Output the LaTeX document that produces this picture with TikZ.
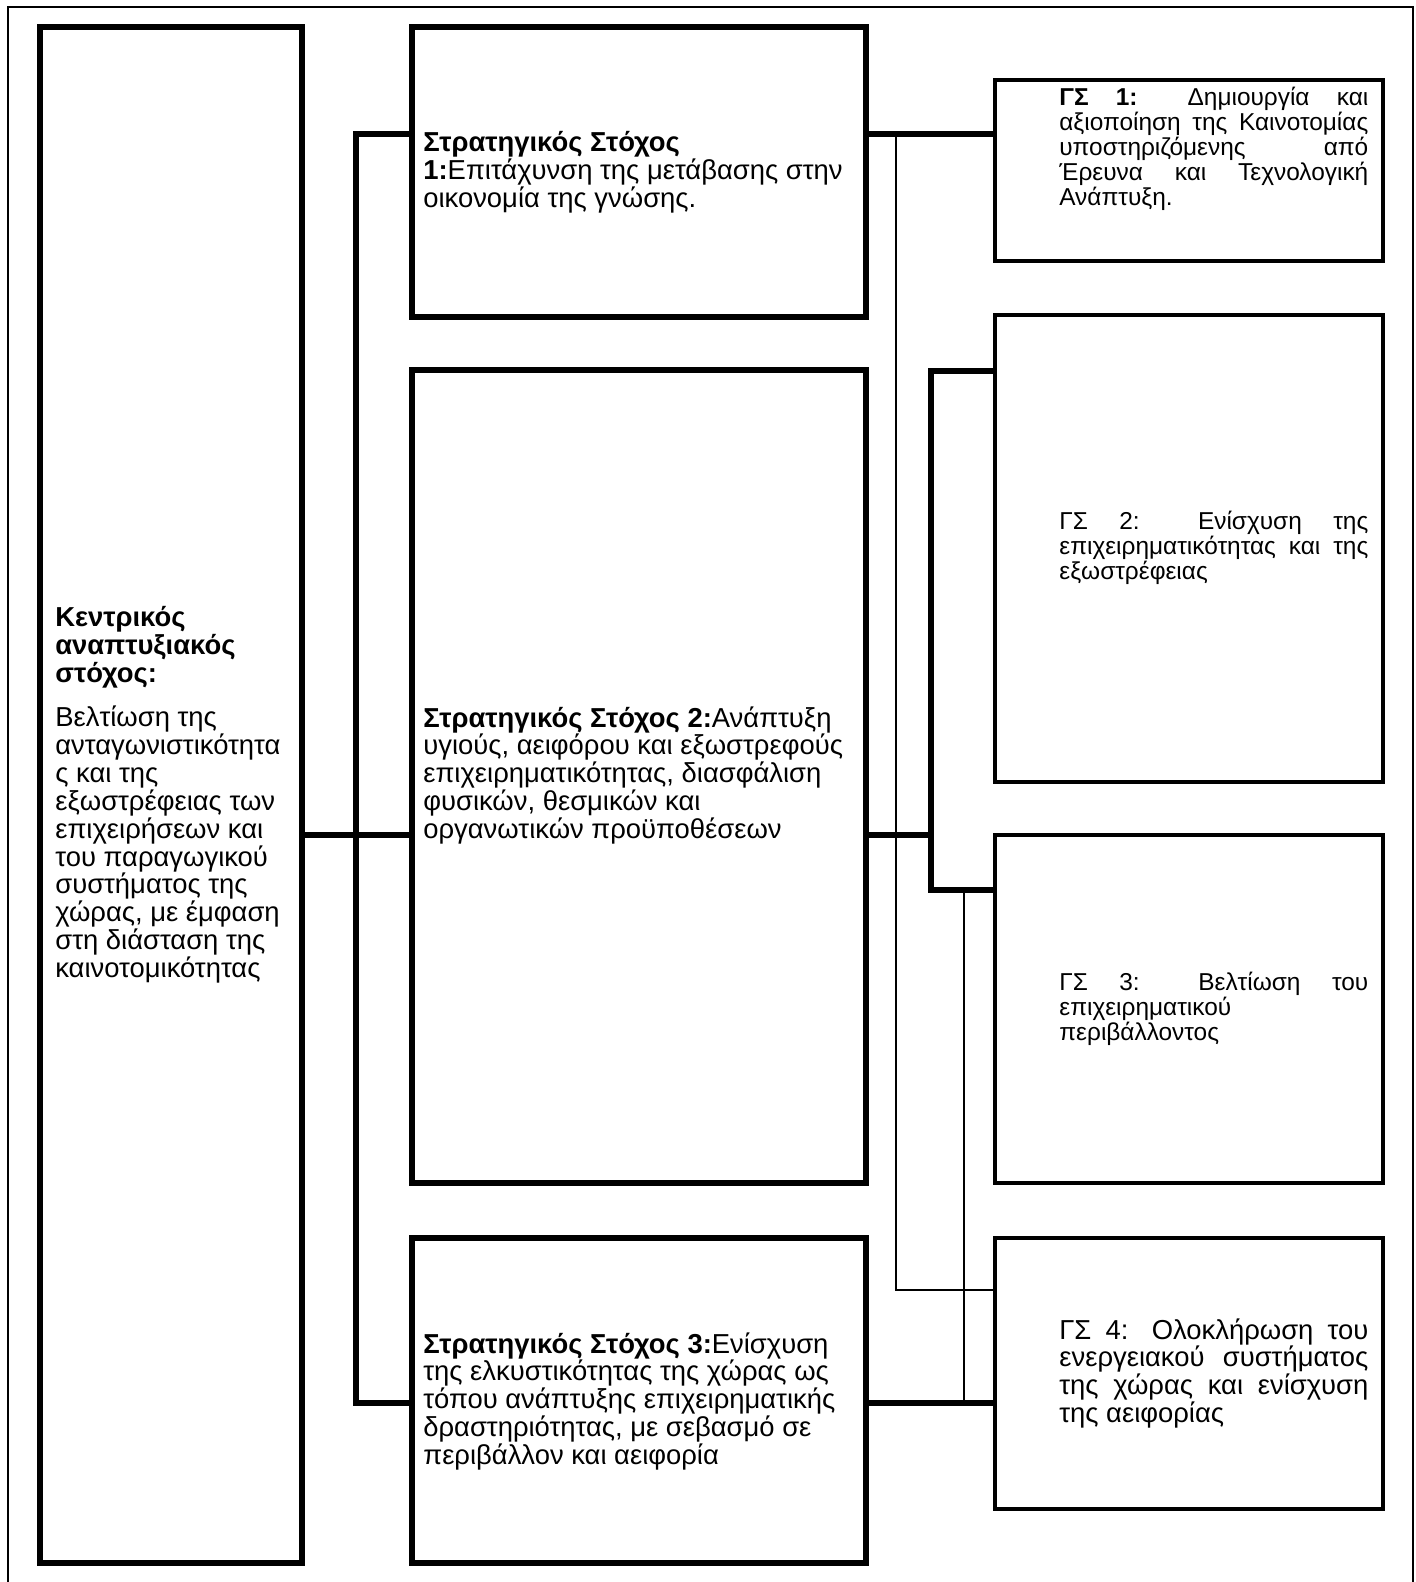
\documentclass[tikz,border=0pt]{standalone}
\usepackage{fontspec}
\setmainfont{Liberation Sans}
\usetikzlibrary{fit}
\newcommand{\gsline}[1]{\makebox[6.18cm][s]{#1}}
\tikzset{
  bigbox/.style={draw,line width=3.4pt,inner sep=0pt},
  smallbox/.style={draw,line width=2.3pt,inner sep=0pt},
  thickline/.style={line width=3.2pt},
  thinline/.style={line width=1pt},
  bigtext/.style={anchor=north west,inner sep=0pt,align=left,font=\fontsize{15.6}{15.9}\selectfont},
  smalltext/.style={anchor=north west,inner sep=0pt,align=left,font=\fontsize{13.9}{14.2}\selectfont}
}
\begin{document}
\begin{tikzpicture}[x=0.02cm,y=-0.02cm]
\useasboundingbox (0,0) rectangle (1416,1582);
\draw[line width=0.8pt] (8,1582) -- (8,7) -- (1413,7) -- (1413,1582);

\node[bigbox,fit={(40,27) (302,1563)}] (main) {};
\node[bigbox,fit={(412,27) (866,317)}] (ss1) {};
\node[bigbox,fit={(412,370) (866,1183)}] (ss2) {};
\node[bigbox,fit={(412,1238) (866,1563)}] (ss3) {};
\node[smallbox,fit={(995,80) (1383,261)}] (gs1) {};
\node[smallbox,fit={(995,315) (1383,782)}] (gs2) {};
\node[smallbox,fit={(995,835) (1383,1183)}] (gs3) {};
\node[smallbox,fit={(995,1238) (1383,1509)}] (gs4) {};

\node[bigtext] (maintext) at (55,606) {\textbf{Κεντρικός}\\ \textbf{αναπτυξιακός}\\ \textbf{στόχος:}\\[0.32cm]
Βελτίωση της\\ ανταγωνιστικότητα\\ ς και της\\ εξωστρέφειας των\\ επιχειρήσεων και\\ του παραγωγικού\\ συστήματος της\\ χώρας, με έμφαση\\ στη διάσταση της\\ καινοτομικότητας};
\node[bigtext] (ss1text) at (423,131) {\textbf{Στρατηγικός Στόχος}\\ \textbf{1:}Επιτάχυνση της μετάβασης στην\\ οικονομία της γνώσης.};
\node[bigtext] (ss2text) at (423,706) {\textbf{Στρατηγικός Στόχος 2:}Ανάπτυξη\\ υγιούς, αειφόρου και εξωστρεφούς\\ επιχειρηματικότητας, διασφάλιση\\ φυσικών, θεσμικών και\\ οργανωτικών προϋποθέσεων};
\node[bigtext] (ss3text) at (423,1332) {\textbf{Στρατηγικός Στόχος 3:}Ενίσχυση\\ της ελκυστικότητας της χώρας ως\\ τόπου ανάπτυξης επιχειρηματικής\\ δραστηριότητας, με σεβασμό σε\\ περιβάλλον και αειφορία};
\node[smalltext] (gs1text) at (1059,87) {\gsline{\textbf{ΓΣ 1:} Δημιουργία και}\\ \gsline{αξιοποίηση της Καινοτομίας}\\ \gsline{υποστηριζόμενης από}\\ \gsline{Έρευνα και Τεχνολογική}\\ Ανάπτυξη.};
\node[smalltext] (gs2text) at (1059,511) {\gsline{ΓΣ 2: Ενίσχυση της}\\ \gsline{επιχειρηματικότητας και της}\\ εξωστρέφειας};
\node[smalltext] (gs3text) at (1059,972) {\gsline{ΓΣ 3: Βελτίωση του}\\ επιχειρηματικού\\ περιβάλλοντος};
\node[bigtext] (gs4text) at (1059,1318) {\gsline{ΓΣ 4: Ολοκλήρωση του}\\ \gsline{ενεργειακού συστήματος}\\ \gsline{της χώρας και ενίσχυση}\\ της αειφορίας};

\coordinate (j1) at (356,134);
\coordinate (j2) at (356,835);
\coordinate (j3) at (356,1403);
\coordinate (k2) at (931,835);
\coordinate (k2a) at (931,371);
\coordinate (k2b) at (931,890);
\coordinate (t1) at (896,134);
\coordinate (t1b) at (896,1290);
\coordinate (t3) at (964,890);
\coordinate (t3b) at (964,1403);

\draw[thickline] (ss1.west |- j1) -- (j1) -- (j3) -- (ss3.west |- j3);
\draw[thickline] (main.east |- j2) -- (ss2.west |- j2);
\draw[thickline] (ss1.east |- j1) -- (gs1.west |- j1);
\draw[thickline] (ss2.east |- k2) -- (k2);
\draw[thickline] (gs2.west |- k2a) -- (k2a) -- (k2b) -- (gs3.west |- k2b);
\draw[thickline] (ss3.east |- t3b) -- (gs4.west |- t3b);
\draw[thinline] (t1) -- (t1b) -- (gs4.west |- t1b);
\draw[thinline] (t3) -- (t3b);
\end{tikzpicture}
\end{document}
